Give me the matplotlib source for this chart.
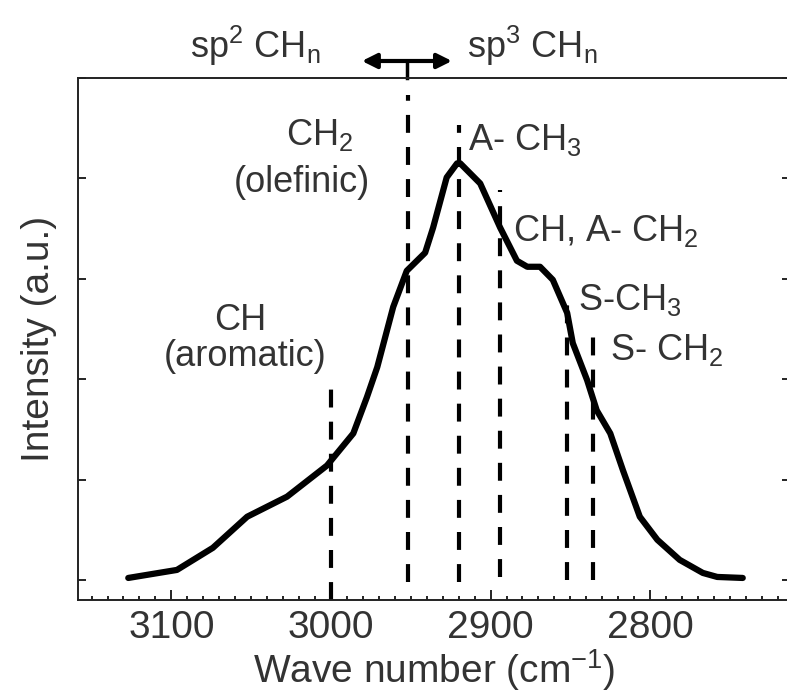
import matplotlib
matplotlib.use('Agg')
import matplotlib.pyplot as plt
from matplotlib.ticker import MultipleLocator, NullFormatter

plt.rcParams['font.family'] = ['Liberation Sans', 'DejaVu Sans']
plt.rcParams['mathtext.fontset'] = 'custom'
plt.rcParams['mathtext.rm'] = 'Liberation Sans'
plt.rcParams['mathtext.it'] = 'Liberation Sans:italic'

# ---- data ----
wave = [3127, 3096.5, 3074, 3052.5, 3027.5, 3002.5, 2986, 2977.5, 2971, 2961,
        2952.5, 2941, 2936, 2927.5, 2921, 2919, 2906.5, 2894, 2883.5, 2877,
        2869, 2861, 2852, 2848.5, 2839.5, 2833.5, 2825, 2817, 2806.5, 2795.5,
        2781.5, 2767, 2758, 2742]
intensity = [0.02, 0.10, 0.32, 0.63, 0.83, 1.14, 1.46, 1.82, 2.12, 2.72,
             3.08, 3.26, 3.51, 4.01, 4.15, 4.15, 3.95, 3.51, 3.18, 3.12,
             3.12, 2.99, 2.66, 2.36, 1.99, 1.69, 1.46, 1.09, 0.63, 0.40,
             0.20, 0.07, 0.03, 0.02]

# band positions (dashed markers) and their vertical extent
band_pos = [3000, 2952, 2920, 2894, 2852, 2836]
band_top = [1.91, 4.83, 4.53, 3.88, 2.79, 2.51]
band_bot = [-0.2, -0.02, -0.02, 0.03, 0.0, 0.0]

ink = '#333333'

fig = plt.figure(figsize=(7.87, 6.92), dpi=100)
ax = fig.add_axes([0.0991, 0.1329, 0.9047, 0.7543])

for xp, yt, yb in zip(band_pos, band_top, band_bot):
    ax.plot([xp, xp], [yb, yt], color='black', lw=3,
            linestyle=(0, (4.3, 3.4)), solid_capstyle='butt', zorder=2)

ax.plot(wave, intensity, color='black', lw=4.5, solid_joinstyle='round',
        solid_capstyle='round', zorder=3)

ax.set_xlim(3158.5, 2712.4)
ax.set_ylim(-0.2, 5.0)

ax.xaxis.set_major_locator(MultipleLocator(100))
ax.xaxis.set_minor_locator(MultipleLocator(10))
ax.yaxis.set_major_locator(MultipleLocator(1))
ax.yaxis.set_major_formatter(NullFormatter())

ax.tick_params(axis='x', which='major', direction='in', length=7, width=1.2,
               labelsize=28, pad=7, labelcolor=ink, top=False)
ax.tick_params(axis='x', which='minor', direction='in', length=2.8, width=1.2,
               top=False)
ax.tick_params(axis='y', which='major', direction='in', length=6, width=1.2,
               left=True, right=True)
for s in ax.spines.values():
    s.set_linewidth(1.4)
    s.set_color('#222222')

ax.set_xlabel('Wave number (cm$^{-1}$)', fontsize=28, color=ink)
ax.xaxis.set_label_coords(0.5, -0.09)
ax.set_ylabel('Intensity (a.u.)', fontsize=28, color=ink)
ax.yaxis.set_label_coords(-0.03, 0.5)

fs = 26
ax.text(2886, 3.38, 'CH, A- CH$_2$', fontsize=fs, color=ink, va='baseline')
ax.text(2845.2, 2.69, 'S-CH$_3$', fontsize=fs, color=ink, va='baseline')
ax.text(2825.2, 2.19, 'S- CH$_2$', fontsize=fs, color=ink, va='baseline')
ax.text(2914.2, 4.28, 'A- CH$_3$', fontsize=fs, color=ink, va='baseline')
ax.text(3057, 2.49, 'CH', fontsize=fs, color=ink, va='baseline', ha='center')
ax.text(3054, 2.13, '(aromatic)', fontsize=fs, color=ink, va='baseline', ha='center')
ax.text(3028, 4.33, 'CH$_2$', fontsize=fs, color=ink, va='baseline')
ax.text(3018, 3.86, '(olefinic)', fontsize=fs, color=ink, va='baseline', ha='center')

# sp2 / sp3 boundary above the frame
ax.text(3088.3, 5.20, r'sp$^2$ CH$_\mathrm{n}$', fontsize=fs, color=ink,
        va='baseline', clip_on=False)
ax.text(2914.8, 5.20, r'sp$^3$ CH$_\mathrm{n}$', fontsize=fs, color=ink,
        va='baseline', clip_on=False)
ax.annotate('', xy=(2924.2, 5.17), xytext=(2980.6, 5.17),
            arrowprops=dict(arrowstyle='<|-|>', color='black', lw=3,
                            mutation_scale=22, shrinkA=0, shrinkB=0),
            annotation_clip=False)
ax.plot([2952.4, 2952.4], [5.17, 5.0], color='black', lw=2.5, clip_on=False)

fig.savefig('out.png', dpi=100)
